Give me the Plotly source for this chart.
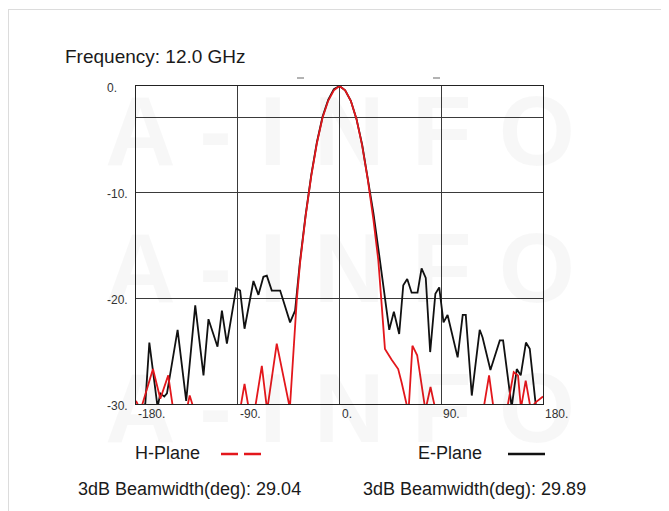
import plotly.graph_objects as go

# ---------------- data ----------------
e_angle = [-180, -174, -171.8, -168.2, -160.9, -158.5, -155, -152.6, -143.2, -135.6, -127.6,
           -120.3, -115.9, -107.9, -104, -99.6, -91.4, -87.9, -84, -76.1, -71.7, -67.3,
           -64.3, -59.9, -52.5, -43.7, -39.3, -37, -35, -30, -25, -20, -15, -10, -5, 0,
           5, 10, 15, 20, 25, 30, 35.7, 38.5, 44, 48.1, 52.8, 56.4, 59.9, 63.8, 69,
           72.6, 76.3, 80.2, 84.8, 88.2, 92, 95.6, 104.5, 109, 111.7, 117, 124, 126.5,
           133.5, 141.8, 144.7, 152.3, 156.8, 160.3, 164.9, 168.3, 173.8, 177, 180]
e_db = [-33, -31.5, -30, -24.2, -30.3, -29.0, -29.3, -29.0, -23.0, -29.7, -20.7,
        -27.3, -22.0, -24.6, -21.2, -24.3, -19.1, -19.3, -22.9, -18.4, -19.7, -18.0,
        -17.9, -19.3, -19.3, -22.3, -21.2, -18.8, -16.6, -12.2, -8.4, -5.3, -2.9, -1.3, -0.3, 0,
        -0.4, -1.4, -3.1, -5.5, -8.6, -12.0, -16.4, -18.6, -23.0, -21.3, -23.4, -18.8, -18.2, -19.5, -19.5,
        -17.2, -18.1, -25.1, -19.6, -19.0, -22.3, -21.6, -25.6, -21.6, -21.6, -29.2, -23.0, -23.7,
        -26.8, -24.0, -24.0, -30.3, -26.7, -27.3, -24.2, -24.8, -30.3, -31, -30.5]

h_angle = [-180, -176, -165, -158.5, -151.5, -147, -138, -132.5, -128.5, -110, -88, -84,
           -80, -75, -68.7, -64, -55.5, -43.9, -37.8, -35, -30, -25, -20, -15, -10, -5, 0,
           5, 10, 15, 20, 25, 30, 34.3, 37, 40.2, 46, 51.9, 55, 61, 64.5, 68.7, 76, 80.5,
           85, 100, 125, 132.3, 136.5, 142, 148, 154.1, 157.9, 160.5, 164.7, 169, 174, 180]
h_db = [-29.7, -30.6, -26.7, -29.5, -27.3, -30.6, -32, -29.2, -30.6, -33, -30.6, -28.1,
        -30.6, -30.6, -26.4, -30.6, -24.3, -30.4, -20.2, -16.8, -12.3, -8.5, -5.4, -3.0, -1.4, -0.4, 0,
        -0.4, -1.4, -3.1, -5.6, -8.8, -12.6, -16.4, -20.2, -24.8, -25.8, -26.7, -28.0, -30.8, -24.5, -25.4, -30.6, -28.4,
        -30.6, -33, -32, -27.3, -30.6, -32, -30.6, -27.0, -27.3, -30.4, -27.8, -30.4, -29.8, -29.3]

x_ticks = [-180, -90, 0, 90, 180]
x_tick_text = ["-180.", "-90.", "0.", "90.", "180."]
y_ticks = [0, -10, -20, -30]
y_tick_text = ["0.", "-10.", "-20.", "-30."]
y_grid = [0, -3, -10, -20, -30]
x_grid = [-90, 0, 90]

title_text = "Frequency: 12.0 GHz"
series_names = ["H-Plane", "E-Plane"]
beamwidths = ["3dB Beamwidth(deg): 29.04", "3dB Beamwidth(deg): 29.89"]
watermark = "A - I N F O"

RED = "#e3171c"
BLACK = "#111111"
FONT = "Liberation Sans, Arial, sans-serif"

# page geometry (page pixels); the figure sits 8px in from the page corner
OFF = 8
W, H = 669, 511
L, R, T, B = 136, 543, 86, 404          # plot area in page pixels
PW, PH = R - L, B - T
def px(xp):
    return (xp - L) / PW
def py(yp):
    return (B - yp) / PH

fig = go.Figure()
fig.add_trace(go.Scatter(x=e_angle, y=e_db, mode="lines", name=series_names[1],
                         line=dict(color=BLACK, width=1.8), showlegend=False))
fig.add_trace(go.Scatter(x=h_angle, y=h_db, mode="lines", name=series_names[0],
                         line=dict(color=RED, width=1.8), showlegend=False))

ann = []
shapes = []

# watermark (very faint)
for yc in [131, 268, 408]:
    ann.append(dict(text="<b>" + watermark + "</b>", xref="paper", yref="paper",
                    x=px(340), y=py(yc), xanchor="center", yanchor="middle", showarrow=False,
                    font=dict(family="Liberation Sans, Arial", size=98, color="rgba(0,0,0,0.03)")))

# title
ann.append(dict(text=title_text, xref="paper", yref="paper", x=px(63), y=py(57),
                xanchor="left", yanchor="middle", showarrow=False,
                font=dict(family=FONT, size=19, color="#1a1a1a")))

# x tick labels (left aligned at the tick)
for v, t in zip(x_ticks, x_tick_text):
    ann.append(dict(text=t, xref="x", yref="paper", x=v, y=0, xanchor="left", yanchor="top",
                    xshift=0, yshift=-1, showarrow=False,
                    font=dict(family=FONT, size=12, color="#333333")))
# y tick labels (left aligned in a column left of the plot)
for v, t in zip(y_ticks, y_tick_text):
    ann.append(dict(text=t, xref="paper", yref="y", x=px(105), y=v, xanchor="left", yanchor="middle",
                    xshift=0, yshift=-2, showarrow=False,
                    font=dict(family=FONT, size=12, color="#333333")))

# legend entries
ann.append(dict(text=series_names[0], xref="paper", yref="paper", x=px(133), y=py(453),
                xanchor="left", yanchor="middle", showarrow=False,
                font=dict(family=FONT, size=18, color="#1a1a1a")))
ann.append(dict(text=series_names[1], xref="paper", yref="paper", x=px(416), y=py(453),
                xanchor="left", yanchor="middle", showarrow=False,
                font=dict(family=FONT, size=18, color="#1a1a1a")))
shapes.append(dict(type="line", xref="paper", yref="paper", x0=px(221), x1=px(261),
                   y0=py(454), y1=py(454), line=dict(color=RED, width=2.5, dash="17px,6px")))
shapes.append(dict(type="line", xref="paper", yref="paper", x0=px(508), x1=px(545),
                   y0=py(454), y1=py(454), line=dict(color=BLACK, width=2.5)))

# beamwidth texts
ann.append(dict(text=beamwidths[0], xref="paper", yref="paper", x=px(76), y=py(489),
                xanchor="left", yanchor="middle", showarrow=False,
                font=dict(family=FONT, size=18, color="#1a1a1a")))
ann.append(dict(text=beamwidths[1], xref="paper", yref="paper", x=px(361), y=py(489),
                xanchor="left", yanchor="middle", showarrow=False,
                font=dict(family=FONT, size=18, color="#1a1a1a")))

# outer frame (top and left border of the picture)
shapes.append(dict(type="line", xref="paper", yref="paper", x0=px(OFF), x1=px(W + OFF),
                   y0=py(9.5), y1=py(9.5), line=dict(color="#dcdcdc", width=1)))
shapes.append(dict(type="line", xref="paper", yref="paper", x0=px(OFF + 0.5), x1=px(OFF + 0.5),
                   y0=py(9), y1=py(H + OFF), line=dict(color="#dcdcdc", width=1)))

# small marks above the plot
for x0, x1 in [(297, 304), (433, 440)]:
    shapes.append(dict(type="line", xref="paper", yref="paper", x0=px(x0), x1=px(x1),
                       y0=py(78), y1=py(78), line=dict(color="#9a9a9a", width=1.5)))

fig.update_layout(
    width=W, height=H, autosize=False,
    margin=dict(l=L - OFF, r=W - (R - OFF), t=T - OFF, b=H - (B - OFF), pad=0),
    paper_bgcolor="white", plot_bgcolor="white",
    showlegend=False,
    annotations=ann, shapes=shapes,
    xaxis=dict(range=[-180, 180], tickvals=x_grid, showticklabels=False, ticks="",
               showgrid=True, gridcolor="#3a3a3a", gridwidth=1, zeroline=False,
               showline=True, linecolor="#222222", linewidth=1, mirror=True, fixedrange=True),
    yaxis=dict(range=[-30, 0], tickvals=y_grid, showticklabels=False, ticks="",
               showgrid=True, gridcolor="#3a3a3a", gridwidth=1, zeroline=False,
               showline=True, linecolor="#222222", linewidth=1, mirror=True, fixedrange=True),
)

fig.write_html("out.html")
